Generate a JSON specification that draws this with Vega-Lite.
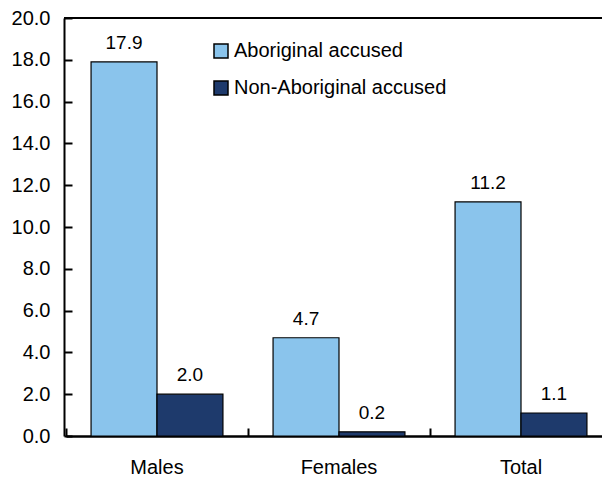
{
  "$schema": "https://vega.github.io/schema/vega-lite/v6.json",
  "autosize": "none",
  "padding": {"left": 64, "top": 18, "right": 0, "bottom": 41},
  "width": 538,
  "height": 418,
  "background": "white",
  "config": {
    "view": {"stroke": null},
    "font": "Liberation Sans",
    "axis": {"grid": false, "domainColor": "black", "domainWidth": 2, "tickColor": "black", "tickWidth": 2, "labelColor": "black", "labelFontSize": 20, "labelFont": "Liberation Sans", "title": null}
  },
  "data": {
    "values": [
      {"category": "Males", "group": "Aboriginal accused", "value": 17.9},
      {"category": "Males", "group": "Non-Aboriginal accused", "value": 2.0},
      {"category": "Females", "group": "Aboriginal accused", "value": 4.7},
      {"category": "Females", "group": "Non-Aboriginal accused", "value": 0.2},
      {"category": "Total", "group": "Aboriginal accused", "value": 11.2},
      {"category": "Total", "group": "Non-Aboriginal accused", "value": 1.1}
    ]
  },
  "resolve": {"axis": {"x": "independent"}},
  "layer": [
    {
      "mark": {"type": "bar", "stroke": "black", "strokeWidth": 1.2},
      "encoding": {
        "x": {"field": "category", "type": "nominal", "sort": ["Males", "Females", "Total"],
          "scale": {"range": [2, 548], "paddingInner": 0, "paddingOuter": 0},
          "axis": {"orient": "bottom", "labelAngle": 0, "ticks": false, "labelPadding": 21}},
        "xOffset": {"field": "group", "type": "nominal", "sort": ["Aboriginal accused", "Non-Aboriginal accused"],
          "scale": {"paddingInner": 0, "paddingOuter": 0.38}},
        "y": {"field": "value", "type": "quantitative",
          "scale": {"domain": [0, 20], "nice": false},
          "axis": {"values": [0, 2, 4, 6, 8, 10, 12, 14, 16, 18, 20], "format": ".1f", "tickSize": -8, "labelPadding": 22}},
        "color": {"field": "group", "type": "nominal",
          "scale": {"domain": ["Aboriginal accused", "Non-Aboriginal accused"], "range": ["#8AC4EC", "#1E3A6C"]},
          "legend": {"title": null, "orient": "none", "legendX": 147, "legendY": 23, "symbolType": "square", "symbolSize": 196,
            "symbolStrokeColor": "black", "symbolStrokeWidth": 1.5, "labelFontSize": 20, "labelFont": "Liberation Sans", "labelColor": "black", "labelOffset": 3, "rowPadding": 17, "labelLimit": 400}}
      }
    },
    {
      "mark": {"type": "text", "fontSize": 19, "font": "Liberation Sans", "baseline": "alphabetic", "dy": -13, "color": "black"},
      "encoding": {
        "x": {"field": "category", "type": "nominal", "sort": ["Males", "Females", "Total"],
          "axis": {"orient": "bottom", "labels": false, "bandPosition": 0, "tickSize": -8, "offset": 0}},
        "xOffset": {"field": "group", "type": "nominal", "sort": ["Aboriginal accused", "Non-Aboriginal accused"]},
        "y": {"field": "value", "type": "quantitative"},
        "text": {"field": "value", "type": "quantitative", "format": ".1f"}
      }
    },
    {
      "mark": {"type": "rule", "color": "black", "strokeWidth": 2},
      "encoding": {"y": {"datum": 20}}
    }
  ]
}
